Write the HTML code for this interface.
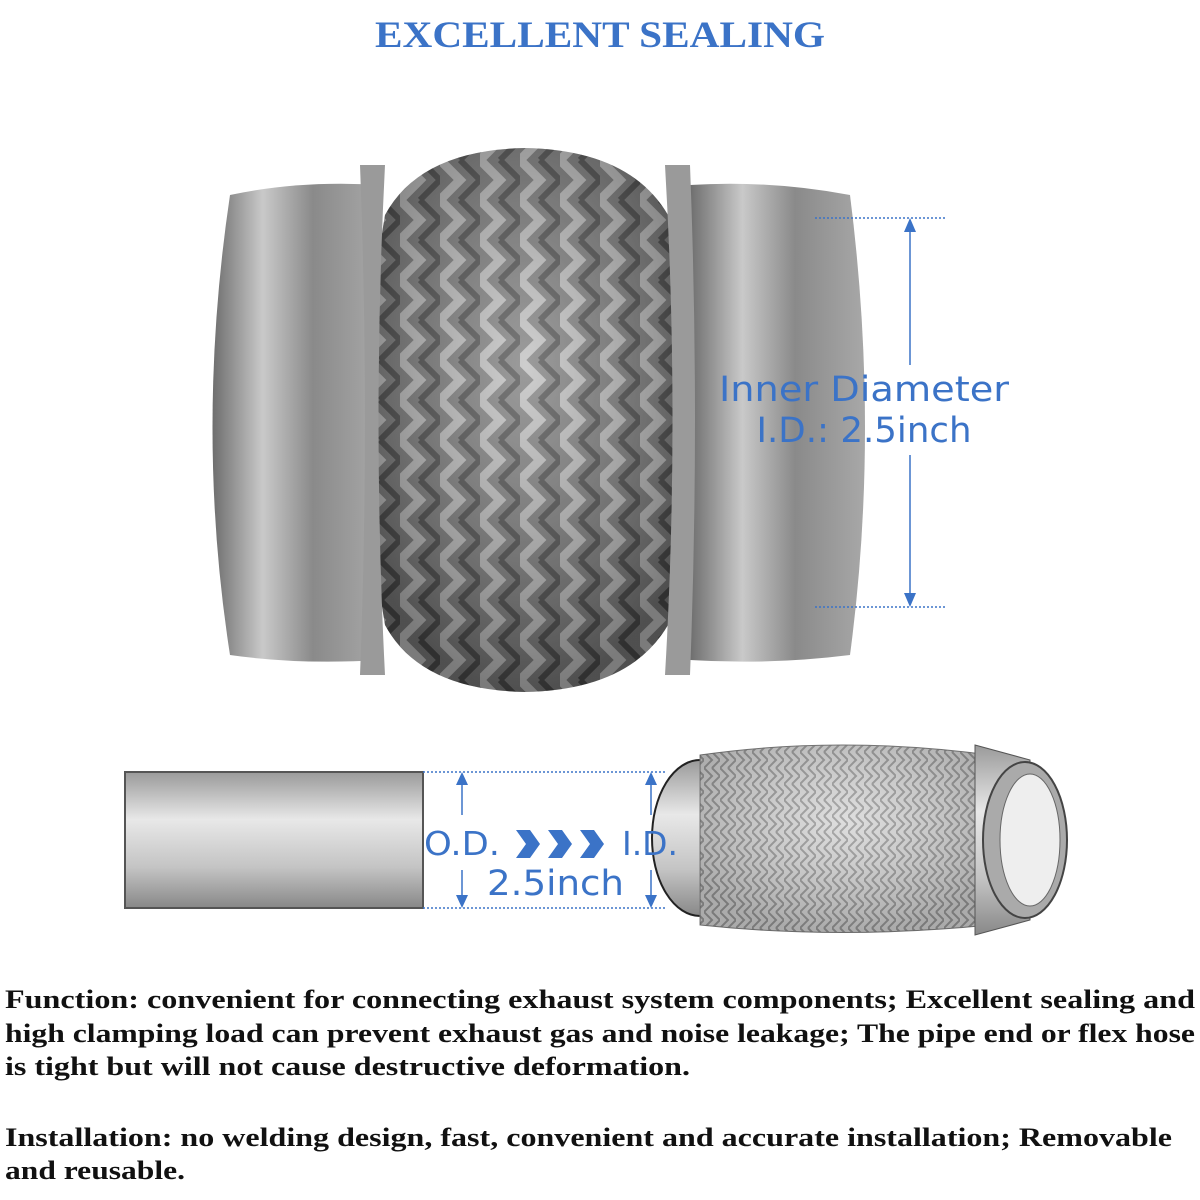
<!DOCTYPE html>
<html><head><style>html,body{margin:0;padding:0;background:#fff;width:1200px;height:1200px;overflow:hidden}</style></head>
<body>
<svg width="1200" height="1200" viewBox="0 0 1200 1200" xmlns="http://www.w3.org/2000/svg">
<defs>
<linearGradient id="col" x1="0" y1="0" x2="1" y2="0">
<stop offset="0" stop-color="#6e6e6e"/><stop offset="0.3" stop-color="#c9c9c9"/><stop offset="0.6" stop-color="#8a8a8a"/><stop offset="1" stop-color="#a8a8a8"/></linearGradient>
<linearGradient id="colv" x1="0" y1="0" x2="0" y2="1">
<stop offset="0" stop-color="#9a9a9a"/><stop offset="0.35" stop-color="#e8e8e8"/><stop offset="0.7" stop-color="#c4c4c4"/><stop offset="1" stop-color="#888"/></linearGradient>
<pattern id="braid" width="40" height="40" patternUnits="userSpaceOnUse">
<rect width="40" height="40" fill="#7a7a7a"/>
<path d="M0 0 L20 20 L0 40" stroke="#bdbdbd" stroke-width="9" fill="none"/>
<path d="M20 0 L40 20 L20 40" stroke="#4a4a4a" stroke-width="6" fill="none"/>
</pattern>
<pattern id="braid2" width="16" height="16" patternUnits="userSpaceOnUse">
<rect width="16" height="16" fill="#d8d8d8"/>
<path d="M0 0 L8 8 L0 16 M8 0 L16 8 L8 16" stroke="#9a9a9a" stroke-width="2" fill="none"/>
</pattern>
<radialGradient id="shade" cx="0.5" cy="0.4" r="0.6"><stop offset="0" stop-color="#fff" stop-opacity="0.25"/><stop offset="1" stop-color="#000" stop-opacity="0.35"/></radialGradient>
</defs>

<text x="600" y="47" text-anchor="middle" font-family="Liberation Serif, serif" font-weight="bold" font-size="37" fill="#3b73c7" textLength="450" lengthAdjust="spacingAndGlyphs">EXCELLENT SEALING</text>

<!-- big flex pipe -->
<path d="M230 195 Q300 180 380 185 L380 660 Q300 665 230 655 Q195 430 230 195Z" fill="url(#col)"/>
<path d="M690 185 Q770 180 850 195 Q880 430 850 655 Q770 665 690 660Z" fill="url(#col)"/>
<path d="M385 215 Q420 150 525 148 Q630 150 668 215 Q700 420 668 625 Q630 690 525 692 Q420 690 385 625 Q350 420 385 215Z" fill="url(#braid)"/>
<path d="M385 215 Q420 150 525 148 Q630 150 668 215 Q700 420 668 625 Q630 690 525 692 Q420 690 385 625 Q350 420 385 215Z" fill="url(#shade)"/>
<path d="M360 165 Q370 420 360 675 L385 675 Q372 420 385 165Z" fill="#9a9a9a"/>
<path d="M665 165 Q680 420 665 675 L690 675 Q700 420 690 165Z" fill="#9a9a9a"/>

<!-- dimension right -->
<g stroke="#3b73c7" stroke-width="1.5">
<line x1="815" y1="218" x2="945" y2="218" stroke-dasharray="2 2"/>
<line x1="815" y1="607" x2="945" y2="607" stroke-dasharray="2 2"/>
<line x1="910" y1="225" x2="910" y2="365"/>
<line x1="910" y1="455" x2="910" y2="600"/>
</g>
<path d="M910 218 L904 232 L916 232Z M910 607 L904 593 L916 593Z" fill="#3b73c7"/>
<text x="864" y="401" text-anchor="middle" font-family="DejaVu Sans, sans-serif" font-size="35" fill="#3b73c7" textLength="290" lengthAdjust="spacingAndGlyphs">Inner Diameter</text>
<text x="864" y="442" text-anchor="middle" font-family="DejaVu Sans, sans-serif" font-size="35" fill="#3b73c7" textLength="215" lengthAdjust="spacingAndGlyphs">I.D.: 2.5inch</text>

<!-- small flex pipe -->
<ellipse cx="700" cy="838" rx="48" ry="78" fill="url(#colv)" stroke="#222" stroke-width="2"/>
<path d="M700 755 Q840 735 990 755 L990 925 Q840 940 700 925Z" fill="url(#braid2)" stroke="#777"/>
<path d="M700 755 Q840 735 990 755 L990 925 Q840 940 700 925Z" fill="url(#shade)" opacity="0.6"/>
<path d="M975 745 L1030 760 L1030 920 L975 935Z" fill="url(#colv)" stroke="#555"/>
<ellipse cx="1025" cy="840" rx="42" ry="78" fill="#aaa" stroke="#444" stroke-width="2"/>
<ellipse cx="1030" cy="840" rx="30" ry="66" fill="#eee" stroke="#666"/>

<!-- bottom pipe -->
<rect x="125" y="772" width="298" height="136" fill="url(#colv)" stroke="#555" stroke-width="2"/>
<g stroke="#3b73c7" stroke-width="1.5">
<line x1="423" y1="772" x2="665" y2="772" stroke-dasharray="2 2"/>
<line x1="423" y1="908" x2="665" y2="908" stroke-dasharray="2 2"/>
<line x1="462" y1="780" x2="462" y2="815"/>
<line x1="462" y1="870" x2="462" y2="900"/>
<line x1="651" y1="780" x2="651" y2="815"/>
<line x1="651" y1="870" x2="651" y2="900"/>
</g>
<path d="M462 772 L456 785 L468 785Z M462 908 L456 895 L468 895Z M651 772 L645 785 L657 785Z M651 908 L645 895 L657 895Z" fill="#3b73c7"/>
<text x="424" y="855" font-family="DejaVu Sans, sans-serif" font-size="33" fill="#3b73c7" textLength="76" lengthAdjust="spacingAndGlyphs">O.D.</text>
<path d="M516 830 L530 830 L540 844 L530 858 L516 858 L526 844Z M548 830 L562 830 L572 844 L562 858 L548 858 L558 844Z M580 830 L594 830 L604 844 L594 858 L580 858 L590 844Z" fill="#3b73c7"/>
<text x="622" y="855" font-family="DejaVu Sans, sans-serif" font-size="33" fill="#3b73c7" textLength="56" lengthAdjust="spacingAndGlyphs">I.D.</text>
<text x="487" y="895" font-family="DejaVu Sans, sans-serif" font-size="35" fill="#3b73c7" textLength="137" lengthAdjust="spacingAndGlyphs">2.5inch</text>

<!-- paragraphs -->
<g font-family="Liberation Serif, serif" font-weight="bold" font-size="26" fill="#111">
<text x="5" y="1008" textLength="1190" lengthAdjust="spacingAndGlyphs">Function: convenient for connecting exhaust system components; Excellent sealing and</text>
<text x="5" y="1042" textLength="1190" lengthAdjust="spacingAndGlyphs">high clamping load can prevent exhaust gas and noise leakage; The pipe end or flex hose</text>
<text x="5" y="1075" textLength="685" lengthAdjust="spacingAndGlyphs">is tight but will not cause destructive deformation.</text>
<text x="5" y="1146" textLength="1167" lengthAdjust="spacingAndGlyphs">Installation: no welding design, fast, convenient and accurate installation; Removable</text>
<text x="5" y="1179" textLength="180" lengthAdjust="spacingAndGlyphs">and reusable.</text>
</g>
</svg>
</body></html>
